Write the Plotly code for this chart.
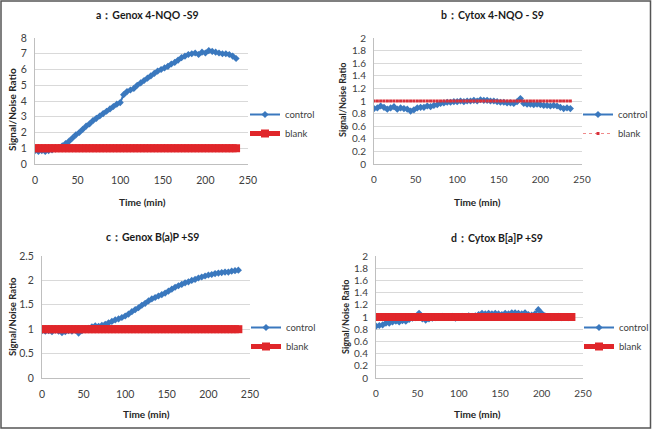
import plotly.graph_objects as go

# ---------------- data ----------------
time_min = [0, 4, 8, 12, 16, 20, 24, 28, 32, 36, 40, 44, 48, 52, 56, 60, 64, 68, 72, 76,
            80, 84, 88, 92, 96, 100, 104, 108, 112, 116, 120, 124, 128, 132, 136, 140, 144, 148, 152, 156,
            160, 164, 168, 172, 176, 180, 184, 188, 192, 196, 200, 204, 208, 212, 216, 220, 224, 228, 232, 236]

blank = [1.00, 1.00, 1.00, 1.00, 1.00, 1.00, 1.00, 1.00, 1.00, 1.00, 1.00, 1.00, 1.00, 1.00, 1.00,
         1.00, 1.00, 1.00, 1.00, 1.00, 1.00, 1.00, 1.00, 1.00, 1.00, 1.00, 1.00, 1.00, 1.00, 1.00,
         1.00, 1.00, 1.00, 1.00, 1.00, 1.00, 1.00, 1.00, 1.00, 1.00, 1.00, 1.00, 1.00, 1.00, 1.00,
         1.00, 1.00, 1.00, 1.00, 1.00, 1.00, 1.00, 1.00, 1.00, 1.00, 1.00, 1.00, 1.00, 1.00, 1.00]

control_a = [0.85, 0.80, 0.85, 0.80, 0.85, 0.90, 0.95, 1.05, 1.15, 1.30, 1.45, 1.65, 1.85, 2.00, 2.20,
             2.40, 2.55, 2.75, 2.90, 3.05, 3.20, 3.35, 3.50, 3.65, 3.80, 3.90, 4.40, 4.60, 4.70, 4.80,
             5.00, 5.15, 5.30, 5.45, 5.60, 5.75, 5.90, 6.00, 6.10, 6.20, 6.35, 6.45, 6.60, 6.75, 6.85,
             6.95, 7.00, 7.05, 6.95, 7.10, 7.05, 7.20, 7.15, 7.10, 7.05, 7.00, 7.00, 6.95, 6.85, 6.70]

control_b = [0.88, 0.89, 0.92, 0.90, 0.87, 0.89, 0.91, 0.87, 0.89, 0.88, 0.87, 0.84, 0.86, 0.89, 0.90,
             0.90, 0.92, 0.91, 0.93, 0.94, 0.96, 0.97, 0.98, 0.98, 0.99, 0.99, 1.00, 0.99, 1.00, 1.00,
             1.01, 1.00, 1.02, 1.01, 1.01, 1.00, 1.00, 0.99, 0.98, 0.98, 0.97, 0.97, 0.96, 0.99, 1.04,
             0.96, 0.95, 0.95, 0.94, 0.95, 0.94, 0.93, 0.93, 0.92, 0.93, 0.92, 0.90, 0.88, 0.89, 0.88]

control_c = [0.97, 0.96, 0.97, 0.95, 0.98, 0.96, 0.93, 0.95, 0.97, 0.96, 0.98, 0.92, 0.97, 0.99, 1.02,
             1.05, 1.07, 1.06, 1.08, 1.10, 1.13, 1.16, 1.19, 1.21, 1.24, 1.27, 1.31, 1.36, 1.40, 1.44,
             1.49, 1.53, 1.58, 1.62, 1.65, 1.68, 1.71, 1.74, 1.78, 1.82, 1.86, 1.89, 1.92, 1.95, 1.97,
             2.00, 2.02, 2.05, 2.07, 2.09, 2.11, 2.12, 2.14, 2.15, 2.16, 2.17, 2.17, 2.19, 2.20, 2.21]

control_d = [0.85, 0.86, 0.87, 0.90, 0.90, 0.92, 0.93, 0.92, 0.94, 0.93, 0.96, 0.98, 0.99, 1.06, 0.97,
             0.95, 0.97, 0.98, 0.99, 1.00, 1.01, 1.00, 1.00, 1.01, 0.98, 1.00, 1.01, 1.00, 1.02, 1.01,
             1.02, 1.04, 1.06, 1.05, 1.06, 1.05, 1.06, 1.05, 1.04, 1.06, 1.05, 1.07, 1.07, 1.06, 1.05,
             1.07, 1.04, 1.03, 1.05, 1.12, 1.06, 1.02, 1.00, 0.99, 1.00, 1.01, 0.99, 1.00, 0.99, 1.00]

titles = ["a\uff1aGenox 4-NQO -S9", "b\uff1aCytox 4-NQO - S9",
          "c\uff1aGenox B(a)P +S9", "d\uff1aCytox B[a]P +S9"]
x_title = "Time (min)"
y_title = "Signal/Noise Ratio"
x_ticks = [0, 50, 100, 150, 200, 250]
y_ticks_a = [0, 1, 2, 3, 4, 5, 6, 7, 8]
y_ticks_b = [0, 0.2, 0.4, 0.6, 0.8, 1, 1.2, 1.4, 1.6, 1.8, 2]
y_ticks_c = [0, 0.5, 1, 1.5, 2, 2.5]
y_ticks_d = [0, 0.2, 0.4, 0.6, 0.8, 1, 1.2, 1.4, 1.6, 1.8, 2]

# ---------------- styling ----------------
W, H = 654, 430
BLUE = "#3A78BE"
RED = "#E0262A"
FONT = "Lato"


def px_x(p):
    return p / W


def px_y(p):
    return 1 - p / H


panels = [
    dict(x=(35, 248), y=(38, 164), ctrl=control_a, ticks=y_ticks_a, rng=[0, 8],
         legend_xy=(245, 124), title_xy=(147, 15), ylab_xy=(12, 110), xlab_xy=(142, 202),
         tickfs=10.5, thin=False, ylabfs=10),
    dict(x=(374, 582), y=(38, 164), ctrl=control_b, ticks=y_ticks_b, rng=[0, 2],
         legend_xy=(578, 124), title_xy=(492, 15), ylab_xy=(343, 100), xlab_xy=(477, 202),
         tickfs=10, thin=True, ylabfs=9),
    dict(x=(42, 250), y=(256, 378), ctrl=control_c, ticks=y_ticks_c, rng=[0, 2.5],
         legend_xy=(246, 337), title_xy=(152, 237), ylab_xy=(12, 317), xlab_xy=(146, 414),
         tickfs=10.5, thin=False, ylabfs=9.5),
    dict(x=(376, 583), y=(256, 378), ctrl=control_d, ticks=y_ticks_d, rng=[0, 2],
         legend_xy=(579, 337), title_xy=(497, 238), ylab_xy=(345, 317), xlab_xy=(477, 414),
         tickfs=10, thin=False, ylabfs=9),
]

fig = go.Figure()
layout = dict(
    width=W, height=H,
    margin=dict(l=0, r=0, t=0, b=0, autoexpand=False),
    paper_bgcolor="white", plot_bgcolor="white",
    font=dict(family=FONT, color="#404040"),
    showlegend=True,
    annotations=[], shapes=[],
)

for i, p in enumerate(panels):
    n = i + 1
    xa = "x" if n == 1 else f"x{n}"
    ya = "y" if n == 1 else f"y{n}"
    lg = "legend" if n == 1 else f"legend{n}"

    fig.add_trace(go.Scatter(
        x=time_min, y=p["ctrl"], name="control", mode="lines+markers",
        xaxis=xa, yaxis=ya, legend=lg,
        line=dict(color=BLUE, width=2),
        marker=dict(symbol="diamond", size=5.5, color=BLUE),
    ))
    if p["thin"]:
        fig.add_trace(go.Scatter(
            x=time_min, y=blank, name="blank", mode="lines+markers",
            xaxis=xa, yaxis=ya, legend=lg,
            line=dict(color="#F08A8A", width=1, dash="dot"),
            marker=dict(symbol="square", size=3, color="#D8303A"),
        ))
    else:
        fig.add_trace(go.Scatter(
            x=time_min, y=blank, name="blank", mode="lines+markers",
            xaxis=xa, yaxis=ya, legend=lg,
            line=dict(color=RED, width=5),
            marker=dict(symbol="square", size=8, color=RED),
        ))

    xkey = "xaxis" if n == 1 else f"xaxis{n}"
    ykey = "yaxis" if n == 1 else f"yaxis{n}"
    layout[xkey] = dict(
        domain=[px_x(p["x"][0]), px_x(p["x"][1])], anchor=ya,
        range=[0, 250], tickvals=x_ticks, showgrid=False, zeroline=False,
        showline=True, linecolor="#BFBFBF", linewidth=1, automargin=False,
        ticks="", ticklabelstandoff=6,
        tickfont=dict(size=p["tickfs"], color="#404040", family=FONT),
    )
    layout[ykey] = dict(
        domain=[px_y(p["y"][1]), px_y(p["y"][0])], anchor=xa,
        range=p["rng"], tickvals=p["ticks"], showgrid=True, gridcolor="#D9D9D9", gridwidth=1,
        zeroline=False, showline=True, linecolor="#BFBFBF", linewidth=1, automargin=False,
        ticks="", ticklabelstandoff=5,
        tickfont=dict(size=p["tickfs"], color="#404040", family=FONT),
    )
    layout[lg] = dict(
        x=px_x(p["legend_xy"][0]), y=px_y(p["legend_xy"][1]),
        xanchor="left", yanchor="middle", bgcolor="rgba(0,0,0,0)",
        font=dict(size=9.5, color="#404040", family=FONT),
        itemwidth=30, tracegroupgap=0,
    )
    layout["annotations"].append(dict(
        text=f"<b>{titles[i]}</b>", x=px_x(p["title_xy"][0]), y=px_y(p["title_xy"][1]),
        xref="paper", yref="paper", showarrow=False, xanchor="center", yanchor="middle",
        font=dict(size=10.5, color="#1A1A1A", family=FONT),
    ))
    layout["annotations"].append(dict(
        text=f"<b>{y_title}</b>", x=px_x(p["ylab_xy"][0]), y=px_y(p["ylab_xy"][1]),
        xref="paper", yref="paper", showarrow=False, textangle=-90,
        xanchor="center", yanchor="middle",
        font=dict(size=p["ylabfs"], color="#262626", family=FONT),
    ))
    layout["annotations"].append(dict(
        text=f"<b>{x_title}</b>", x=px_x(p["xlab_xy"][0]), y=px_y(p["xlab_xy"][1]),
        xref="paper", yref="paper", showarrow=False, xanchor="center", yanchor="middle",
        font=dict(size=10, color="#262626", family=FONT),
    ))

layout["shapes"].append(dict(
    type="rect", xref="paper", yref="paper",
    x0=px_x(1), x1=px_x(650.5), y0=px_y(428), y1=px_y(1),
    line=dict(color="#555555", width=1.5), fillcolor="rgba(0,0,0,0)", layer="above",
))

fig.update_layout(**layout)
fig.write_html("out.html", config={"displayModeBar": False},
               post_script="document.body.style.margin='0px';")
